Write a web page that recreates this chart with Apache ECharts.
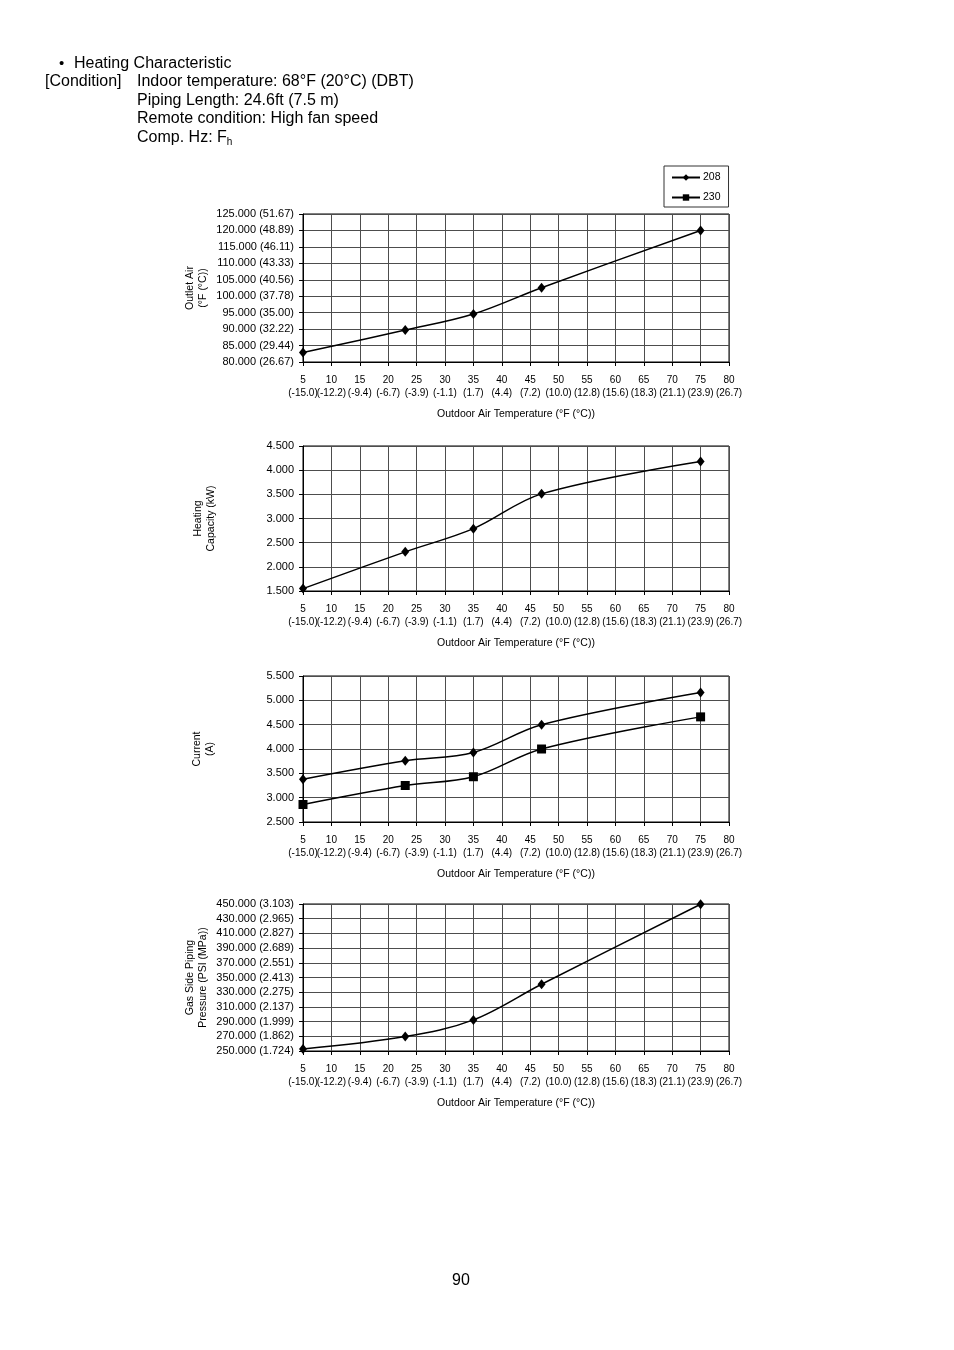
<!DOCTYPE html>
<html><head><meta charset="utf-8">
<script src="https://cdn.jsdelivr.net/npm/echarts@6/dist/echarts.min.js"></script>
<style>html,body{margin:0;padding:0;background:#fff}#c{width:954px;height:1350px}</style>
</head><body><div id="c"></div>
<script>
// ---- data ----
const tempF = [5, 23, 35, 47, 75];
const xTicksF = [5, 10, 15, 20, 25, 30, 35, 40, 45, 50, 55, 60, 65, 70, 75, 80];
const xTicksC = ['-15.0','-12.2','-9.4','-6.7','-3.9','-1.1','1.7','4.4','7.2','10.0','12.8','15.6','18.3','21.1','23.9','26.7'];

const outletAir208 = [82.9, 89.7, 94.6, 102.6, 120.0];
const outletTicksF = [80, 85, 90, 95, 100, 105, 110, 115, 120, 125];
const outletTicksC = ['26.67','29.44','32.22','35.00','37.78','40.56','43.33','46.11','48.89','51.67'];

const heatingCapacity208 = [1.55, 2.31, 2.79, 3.51, 4.18];

const current208 = [3.38, 3.76, 3.93, 4.50, 5.16];
const current230 = [2.86, 3.25, 3.43, 4.00, 4.66];

const gasPressure208 = [252.7, 269.6, 292.3, 340.8, 449.6];
const gasTicksPSI = [250, 270, 290, 310, 330, 350, 370, 390, 410, 430, 450];
const gasTicksMPa = ['1.724','1.862','1.999','2.137','2.275','2.413','2.551','2.689','2.827','2.965','3.103'];

// ---- styling ----
const FONT = '"Liberation Sans", Arial, sans-serif';
const GRID_COLOR = '#4d4d4d';
const gridTops = [214, 446, 676, 904];
const gridHeights = [148, 145, 146, 147];

function pairs(xs, ys) { return xs.map((x, i) => [x, ys[i]]); }

const grids = gridTops.map((t, i) => ({
  left: 303, width: 426, top: t, height: gridHeights[i],
  show: true, borderColor: '#000', borderWidth: 1, backgroundColor: '#fff'
}));

const xLabelStyle = { fontFamily: FONT, fontSize: 10, color: '#000', margin: 12, lineHeight: 13,
  showMinLabel: true, showMaxLabel: true, hideOverlap: false };

// main x axes: °F value on line 1, °C on line 2 for even ticks
const xAxesMain = gridTops.map((t, i) => ({
  type: 'value', gridIndex: i, min: 5, max: 80, interval: 5,
  name: 'Outdoor Air Temperature (°F (°C))', nameLocation: 'middle', nameGap: 47,
  nameTextStyle: { fontFamily: FONT, fontSize: 10.5, color: '#000' },
  axisLine: { show: true, lineStyle: { color: '#000', width: 1 } },
  axisTick: { show: true, length: 4, lineStyle: { color: '#000' } },
  splitLine: { show: true, lineStyle: { color: GRID_COLOR, width: 1 } },
  axisLabel: Object.assign({}, xLabelStyle, {
    formatter: v => { const k = xTicksF.indexOf(v); return (k >= 0 && k % 2 === 0) ? v + '\n(' + xTicksC[k] + ')' : String(v); }
  })
}));
// companion x axes: °C on line 2 for odd ticks (kept separate so neighbouring labels never collide)
const xAxesAux = gridTops.map((t, i) => ({
  type: 'value', gridIndex: i, min: 5, max: 80, interval: 5, position: 'bottom',
  axisLine: { show: false }, axisTick: { show: false }, splitLine: { show: false },
  axisLabel: Object.assign({}, xLabelStyle, {
    formatter: v => { const k = xTicksF.indexOf(v); return (k >= 0 && k % 2 === 1) ? ' \n(' + xTicksC[k] + ')' : ''; }
  })
}));

const yBase = {
  type: 'value', nameLocation: 'middle', nameRotate: 90,
  nameTextStyle: { fontFamily: FONT, fontSize: 10.5, color: '#000', lineHeight: 13 },
  axisLine: { show: true, lineStyle: { color: '#000', width: 1 } },
  axisTick: { show: true, length: 4, lineStyle: { color: '#000' } },
  splitLine: { show: true, lineStyle: { color: GRID_COLOR, width: 1 } },
  axisLabel: { fontFamily: FONT, fontSize: 11, color: '#000', margin: 9, showMinLabel: true, showMaxLabel: true }
};

const yAxes = [
  Object.assign({}, yBase, {
    gridIndex: 0, min: 80, max: 125, interval: 5, name: 'Outlet Air\n(°F (°C))', nameGap: 93,
    axisLabel: Object.assign({}, yBase.axisLabel, {
      formatter: v => { const k = outletTicksF.indexOf(v); return v.toFixed(3) + ' (' + (k >= 0 ? outletTicksC[k] : '') + ')'; }
    })
  }),
  Object.assign({}, yBase, {
    gridIndex: 1, min: 1.5, max: 4.5, interval: 0.5, name: 'Heating\nCapacity (kW)', nameGap: 85,
    axisLabel: Object.assign({}, yBase.axisLabel, { formatter: v => v.toFixed(3) })
  }),
  Object.assign({}, yBase, {
    gridIndex: 2, min: 2.5, max: 5.5, interval: 0.5, name: 'Current\n(A)', nameGap: 86,
    axisLabel: Object.assign({}, yBase.axisLabel, { formatter: v => v.toFixed(3) })
  }),
  Object.assign({}, yBase, {
    gridIndex: 3, min: 250, max: 450, interval: 20, name: 'Gas Side Piping\nPressure (PSI (MPa))', nameGap: 93,
    axisLabel: Object.assign({}, yBase.axisLabel, {
      formatter: v => { const k = gasTicksPSI.indexOf(v); return v.toFixed(3) + ' (' + (k >= 0 ? gasTicksMPa[k] : '') + ')'; }
    })
  })
];

function lineSeries(name, xi, data, symbol, size) {
  return {
    type: 'line', name: name, xAxisIndex: xi, yAxisIndex: xi, data: data,
    smooth: 0.35, symbol: symbol, symbolSize: size,
    lineStyle: { color: '#000', width: 1.5 },
    itemStyle: { color: '#000' },
    emphasis: { disabled: true }, animation: false, z: 5
  };
}

const series = [
  lineSeries('208', 0, pairs(tempF, outletAir208), 'diamond', [8, 10]),
  lineSeries('208', 1, pairs(tempF, heatingCapacity208), 'diamond', [8, 10]),
  lineSeries('208', 2, pairs(tempF, current208), 'diamond', [8, 10]),
  lineSeries('230', 2, pairs(tempF, current230), 'rect', [9, 9]),
  lineSeries('208', 3, pairs(tempF, gasPressure208), 'diamond', [8, 10])
];

const txt = (x, y, text, extra) => ({
  type: 'text', x: x, y: y,
  style: Object.assign({ text: text, fontFamily: FONT, fontSize: 16, fill: '#000', textVerticalAlign: 'middle' }, extra || {})
});

const graphics = [
  txt(59, 64, '•', { fontSize: 15 }),
  txt(74, 64, 'Heating Characteristic'),
  txt(45, 82, '[Condition]'),
  txt(137, 82, 'Indoor temperature: 68°F (20°C) (DBT)'),
  txt(137, 101, 'Piping Length: 24.6ft (7.5 m)'),
  txt(137, 119, 'Remote condition: High fan speed'),
  {
    type: 'text', x: 137, y: 138,
    style: {
      text: 'Comp. Hz: F{sub|h}', fontFamily: FONT, fontSize: 16, fill: '#000', verticalAlign: 'middle',
      rich: { sub: { fontFamily: FONT, fontSize: 10, fill: '#000', padding: [8, 0, 0, 0] } }
    }
  },
  txt(461, 1281, '90', { textAlign: 'center' })
];

const chart = echarts.init(document.getElementById('c'), null, { renderer: 'canvas' });
chart.setOption({
  animation: false,
  backgroundColor: '#fff',
  grid: grids,
  xAxis: xAxesMain.concat(xAxesAux),
  yAxis: yAxes,
  series: series,
  legend: {
    data: ['208', '230'], orient: 'vertical', left: 664, top: 166,
    borderColor: '#333', borderWidth: 1, padding: [6, 8, 4, 7], itemGap: 9,
    itemWidth: 28, itemHeight: 8, selectedMode: false,
    textStyle: { fontFamily: FONT, fontSize: 10.5, color: '#000', padding: [0, 0, 0, -2] }
  },
  graphic: graphics
});
</script>
</body></html>
